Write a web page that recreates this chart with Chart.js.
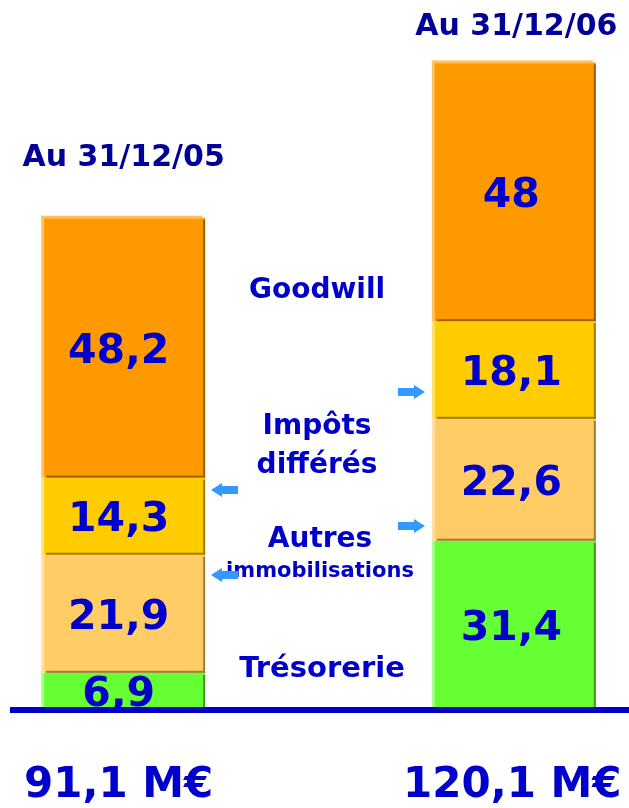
<!DOCTYPE html>
<html>
<head>
<meta charset="utf-8">
<script src="https://cdn.jsdelivr.net/npm/chart.js@4/dist/chart.umd.min.js"></script>
<style>
  html, body { margin: 0; padding: 0; background: #ffffff; }
  #wrap { width: 629px; height: 808px; }
</style>
</head>
<body>
<div id="wrap"><canvas id="bilan"></canvas></div>
<script>
// data
const dates = ['Au 31/12/05', '', 'Au 31/12/06'];
const totals = ['91,1 M€', '', '120,1 M€'];
const seriesNames = ['Trésorerie', 'Autres immobilisations', 'Impôts différés', 'Goodwill'];
const tresorerie = [6.9, null, 31.4];
const autresImmo = [21.9, null, 22.6];
const impotsDiff = [14.3, null, 18.1];
const goodwill = [48.2, null, 48];

const fillColors = ['#66ff33', '#ffcc66', '#ffcc00', '#ff9900'];
const lightColors = ['#a6ff88', '#ffe0a8', '#ffe070', '#ffc060'];
const darkColors = ['#3c9a1c', '#a07c3c', '#a07c00', '#a05c00'];

const textBlue = '#0000cc';
const navy = '#000099';
const arrowBlue = '#3399ff';

// --- bevel edges + value labels ---
const bevelPlugin = {
    id: 'bevel',
    afterDatasetsDraw(chart) {
        const ctx = chart.ctx;
        const n = chart.data.datasets.length;
        ctx.save();
        chart.data.datasets.forEach((ds, di) => {
            const meta = chart.getDatasetMeta(di);
            meta.data.forEach((bar, i) => {
                if (ds.data[i] == null) return;
                const l = bar.x - bar.width / 2;
                const r = bar.x + bar.width / 2;
                const t = bar.y;
                const b = bar.base;
                ctx.fillStyle = lightColors[di];
                ctx.fillRect(l - 1, t, 3, b - t);
                if (di === n - 1) ctx.fillRect(l - 1, t - 2, r - l - 2, 3);
                ctx.fillStyle = darkColors[di];
                ctx.fillRect(r - 2, t + 2, 2, b - t - 2);
                ctx.fillRect(l + 4, b - 2, r - l - 4, 2);
            });
        });

        // value labels (sit a little left of the bar centre in the original)
        const shift = [-5, 0, -3];
        ctx.fillStyle = textBlue;
        ctx.font = 'bold 41px "DejaVu Sans"';
        ctx.textAlign = 'center';
        ctx.textBaseline = 'alphabetic';
        chart.data.datasets.forEach((ds, di) => {
            const meta = chart.getDatasetMeta(di);
            meta.data.forEach((bar, i) => {
                if (ds.data[i] == null) return;
                const mid = (bar.y + bar.base) / 2;
                const txt = String(ds.data[i]).replace('.', ',');
                ctx.fillText(txt, bar.x + shift[i], mid + 15);
            });
        });
        ctx.restore();
    }
};

// --- titles, middle legend text, arrows, baseline, totals ---
const annotPlugin = {
    id: 'annot',
    afterDraw(chart) {
        const ctx = chart.ctx;
        const xs = chart.scales.x;
        const area = chart.chartArea;
        const cx = i => xs.getPixelForValue(i);
        ctx.save();

        // baseline
        ctx.fillStyle = textBlue;
        ctx.fillRect(10, area.bottom - 3, chart.width - 10, 6);

        ctx.textAlign = 'center';
        ctx.textBaseline = 'alphabetic';

        // date titles
        ctx.fillStyle = navy;
        ctx.font = 'bold 30px "DejaVu Sans"';
        ctx.fillText(dates[0], cx(0) + 0, 166);
        ctx.fillText(dates[2], cx(2) + 2, 35);

        // series names between the bars
        const mx = cx(1);
        ctx.fillStyle = textBlue;
        ctx.font = 'bold 28px "DejaVu Sans"';
        ctx.fillText('Goodwill', mx - 2, 298);
        ctx.fillText('Impôts', mx - 2, 434);
        ctx.fillText('différés', mx - 2, 473);
        ctx.fillText('Autres', mx + 1, 547);
        ctx.font = 'bold 29px "DejaVu Sans"';
        ctx.fillText('Trésorerie', mx + 3, 677);
        ctx.font = 'bold 21px "DejaVu Sans"';
        ctx.fillText('immobilisations', mx + 1, 577);

        // totals under the bars
        ctx.font = 'bold 42px "DejaVu Sans"';
        ctx.fillText(totals[0], cx(0) - 5, 797);
        ctx.fillText(totals[2], cx(2) - 2, 797);

        // arrows
        const arrows = [
            { x: 398, y: 392, dir: 1 },
            { x: 398, y: 526, dir: 1 },
            { x: 238, y: 490, dir: -1 },
            { x: 238, y: 575, dir: -1 }
        ];
        ctx.fillStyle = arrowBlue;
        arrows.forEach(a => {
            const d = a.dir;
            ctx.beginPath();
            ctx.moveTo(a.x, a.y - 4);
            ctx.lineTo(a.x + d * 16, a.y - 4);
            ctx.lineTo(a.x + d * 16, a.y - 7);
            ctx.lineTo(a.x + d * 27, a.y);
            ctx.lineTo(a.x + d * 16, a.y + 7);
            ctx.lineTo(a.x + d * 16, a.y + 4);
            ctx.lineTo(a.x, a.y + 4);
            ctx.closePath();
            ctx.fill();
        });
        ctx.restore();
    }
};

const seriesData = [tresorerie, autresImmo, impotsDiff, goodwill];

new Chart(document.getElementById('bilan'), {
    type: 'bar',
    data: {
        labels: dates,
        datasets: seriesData.map((d, i) => ({
            label: seriesNames[i],
            data: d,
            backgroundColor: fillColors[i],
            borderWidth: 0,
            barPercentage: 0.834,
            categoryPercentage: 1.0
        }))
    },
    options: {
        responsive: true,
        maintainAspectRatio: false,
        animation: false,
        layout: { padding: { left: 26, right: 17, top: 9, bottom: 98 } },
        scales: {
            x: { stacked: true, display: false },
            y: { stacked: true, display: false, min: 0, max: 130 }
        },
        plugins: {
            legend: { display: false },
            tooltip: { enabled: false }
        }
    },
    plugins: [bevelPlugin, annotPlugin]
});
</script>
</body>
</html>
